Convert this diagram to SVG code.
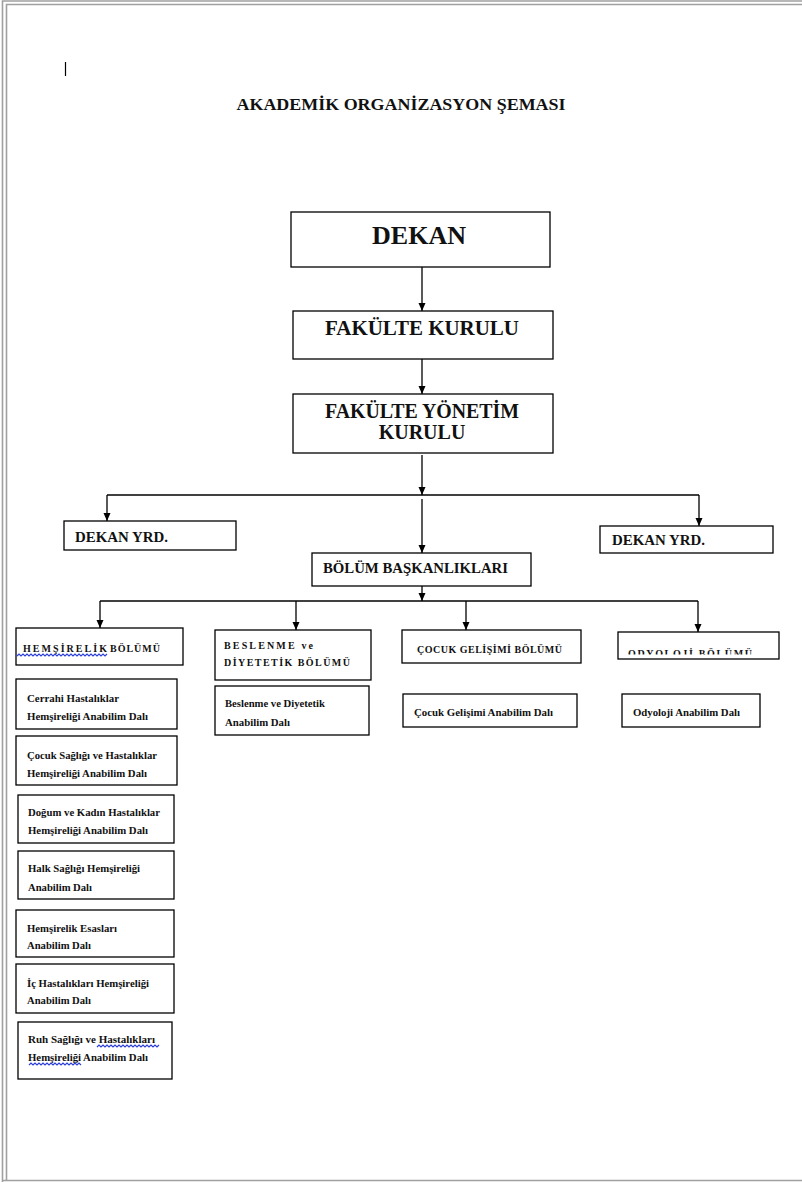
<svg xmlns="http://www.w3.org/2000/svg" width="802" height="1182" viewBox="0 0 802 1182">
<style>
.box{fill:#fff;stroke:#000;stroke-width:1.3}
text{font-family:"Liberation Serif","Times New Roman",serif;font-weight:bold;fill:#111}
.s{font-size:10px}
.c{font-size:10px}
.conn{stroke:#000;stroke-width:1.3;fill:none}
.wavy{stroke:#2b3fd6;stroke-width:1.2;fill:none}
.pg{stroke:#a0a0a0;stroke-width:1.6;fill:none}
</style>
<defs>
<marker id="ah" viewBox="0 0 8 8" refX="8" refY="4" markerWidth="8" markerHeight="8" markerUnits="userSpaceOnUse" orient="auto">
<path d="M0,0.5 L8,4 L0,7.5 Z" fill="#000"/>
</marker>
<clipPath id="odclip"><rect x="619" y="633" width="159" height="21.5"/></clipPath>
</defs>
<rect x="0" y="0" width="802" height="1182" fill="#fff"/>
<g id="page">
<path class="pg" d="M2.5,1182 V1 H802"/>
<path class="pg" d="M6.5,1180 V4.5 H802"/>
<path class="pg" d="M2.5,1180.5 H802"/>
<line x1="65.5" y1="62" x2="65.5" y2="76" stroke="#000" stroke-width="1.2"/>
</g>
<g id="title">
<text x="401" y="110" font-size="16" text-anchor="middle" textLength="329" lengthAdjust="spacingAndGlyphs">AKADEMİK ORGANİZASYON ŞEMASI</text>
</g>
<g id="connectors">
<line class="conn" x1="422" y1="267" x2="422" y2="311" marker-end="url(#ah)"/>
<line class="conn" x1="422" y1="359" x2="422" y2="394" marker-end="url(#ah)"/>
<line class="conn" x1="422" y1="455" x2="422" y2="495" marker-end="url(#ah)"/>
<line class="conn" x1="107" y1="495" x2="699" y2="495"/>
<line class="conn" x1="107" y1="495" x2="107" y2="521" marker-end="url(#ah)"/>
<line class="conn" x1="699" y1="495" x2="699" y2="526" marker-end="url(#ah)"/>
<line class="conn" x1="422" y1="499" x2="422" y2="553" marker-end="url(#ah)"/>
<line class="conn" x1="422" y1="586" x2="422" y2="601" marker-end="url(#ah)"/>
<line class="conn" x1="100" y1="601" x2="698" y2="601"/>
<line class="conn" x1="100" y1="601" x2="100" y2="628" marker-end="url(#ah)"/>
<line class="conn" x1="296" y1="601" x2="296" y2="630" marker-end="url(#ah)"/>
<line class="conn" x1="466" y1="601" x2="466" y2="630" marker-end="url(#ah)"/>
<line class="conn" x1="698" y1="601" x2="698" y2="632" marker-end="url(#ah)"/>
</g>
<g id="dekan">
<rect class="box" x="291" y="212" width="259" height="55"/>
<text x="419" y="244" font-size="25" text-anchor="middle" textLength="94" lengthAdjust="spacingAndGlyphs">DEKAN</text>
</g>
<g id="fakulte-kurulu">
<rect class="box" x="293" y="311" width="260" height="48"/>
<text x="422" y="335" font-size="20" text-anchor="middle" textLength="194" lengthAdjust="spacingAndGlyphs">FAKÜLTE KURULU</text>
</g>
<g id="fakulte-yonetim-kurulu">
<rect class="box" x="293" y="394" width="260" height="59"/>
<text x="422" y="418" font-size="20" text-anchor="middle" textLength="194" lengthAdjust="spacingAndGlyphs">FAKÜLTE YÖNETİM</text>
<text x="422" y="439" font-size="20" text-anchor="middle">KURULU</text>
</g>
<g id="dekan-yrd-1">
<rect class="box" x="64" y="521" width="172" height="29"/>
<text x="75" y="542" font-size="14.5" textLength="93" lengthAdjust="spacingAndGlyphs">DEKAN YRD.</text>
</g>
<g id="dekan-yrd-2">
<rect class="box" x="600" y="526" width="173" height="27"/>
<text x="612" y="545" font-size="14.5" textLength="93" lengthAdjust="spacingAndGlyphs">DEKAN YRD.</text>
</g>
<g id="bolum-baskanliklari">
<rect class="box" x="312" y="553" width="219" height="33"/>
<text x="323" y="573" font-size="14.5" textLength="185" lengthAdjust="spacingAndGlyphs">BÖLÜM BAŞKANLIKLARI</text>
</g>
<g id="hemsirelik-bolumu">
<rect class="box" x="16" y="628" width="167" height="37"/>
<text class="c" x="23" y="652" textLength="84" lengthAdjust="spacing">HEMŞİRELİK</text>
<text class="c" x="110" y="652" textLength="50" lengthAdjust="spacing">BÖLÜMÜ</text>
<path class="wavy" d="M17,656 l2,-2 l2,2 l2,-2 l2,2 l2,-2 l2,2 l2,-2 l2,2 l2,-2 l2,2 l2,-2 l2,2 l2,-2 l2,2 l2,-2 l2,2 l2,-2 l2,2 l2,-2 l2,2 l2,-2 l2,2 l2,-2 l2,2 l2,-2 l2,2 l2,-2 l2,2 l2,-2 l2,2 l2,-2 l2,2 l2,-2 l2,2 l2,-2 l2,2 l2,-2 l2,2 l2,-2 l2,2 l2,-2 l2,2 l2,-2 l2,2 l2,-2"/>
</g>
<g id="beslenme-bolumu">
<rect class="box" x="215" y="630" width="156" height="50"/>
<text class="c" x="224" y="649" textLength="89" lengthAdjust="spacing">BESLENME ve</text>
<text class="c" x="224" y="666" textLength="126" lengthAdjust="spacing">DİYETETİK BÖLÜMÜ</text>
</g>
<g id="cocuk-gelisimi-bolumu">
<rect class="box" x="402" y="630" width="179" height="33"/>
<text class="c" x="417" y="653" textLength="145" lengthAdjust="spacing">ÇOCUK GELİŞİMİ BÖLÜMÜ</text>
</g>
<g id="odyoloji-bolumu">
<rect class="box" x="618" y="632" width="161" height="27"/>
<text class="c" x="628" y="657" textLength="124" lengthAdjust="spacing" clip-path="url(#odclip)">ODYOLOJİ BÖLÜMÜ</text>
</g>
<g id="cerrahi">
<rect class="box" x="16" y="679" width="161" height="50"/>
<text class="s" x="27" y="702" textLength="92" lengthAdjust="spacingAndGlyphs">Cerrahi Hastalıklar</text>
<text class="s" x="27" y="720" textLength="121" lengthAdjust="spacingAndGlyphs">Hemşireliği Anabilim Dalı</text>
</g>
<g id="cocuk-sagligi">
<rect class="box" x="16" y="736" width="161" height="49"/>
<text class="s" x="27" y="759" textLength="130" lengthAdjust="spacingAndGlyphs">Çocuk Sağlığı ve Hastalıklar</text>
<text class="s" x="27" y="777" textLength="120" lengthAdjust="spacingAndGlyphs">Hemşireliği Anabilim Dalı</text>
</g>
<g id="dogum">
<rect class="box" x="18" y="795" width="156" height="48"/>
<text class="s" x="28" y="816" textLength="132" lengthAdjust="spacingAndGlyphs">Doğum ve Kadın Hastalıklar</text>
<text class="s" x="28" y="834" textLength="120" lengthAdjust="spacingAndGlyphs">Hemşireliği Anabilim Dalı</text>
</g>
<g id="halk-sagligi">
<rect class="box" x="18" y="851" width="156" height="48"/>
<text class="s" x="28" y="872" textLength="112" lengthAdjust="spacingAndGlyphs">Halk Sağlığı Hemşireliği</text>
<text class="s" x="28" y="891" textLength="64" lengthAdjust="spacingAndGlyphs">Anabilim Dalı</text>
</g>
<g id="hemsirelik-esaslari">
<rect class="box" x="16" y="910" width="158" height="47"/>
<text class="s" x="27" y="932" textLength="90" lengthAdjust="spacingAndGlyphs">Hemşirelik Esasları</text>
<text class="s" x="27" y="949" textLength="64" lengthAdjust="spacingAndGlyphs">Anabilim Dalı</text>
</g>
<g id="ic-hastaliklari">
<rect class="box" x="16" y="964" width="158" height="49"/>
<text class="s" x="27" y="987" textLength="122" lengthAdjust="spacingAndGlyphs">İç Hastalıkları Hemşireliği</text>
<text class="s" x="27" y="1004" textLength="64" lengthAdjust="spacingAndGlyphs">Anabilim Dalı</text>
</g>
<g id="ruh-sagligi">
<rect class="box" x="18" y="1022" width="154" height="57"/>
<text class="s" x="28" y="1043" textLength="127" lengthAdjust="spacingAndGlyphs">Ruh Sağlığı ve Hastalıkları</text>
<text class="s" x="28" y="1061" textLength="120" lengthAdjust="spacingAndGlyphs">Hemşireliği Anabilim Dalı</text>
<path class="wavy" d="M97,1047 l2,-2 l2,2 l2,-2 l2,2 l2,-2 l2,2 l2,-2 l2,2 l2,-2 l2,2 l2,-2 l2,2 l2,-2 l2,2 l2,-2 l2,2 l2,-2 l2,2 l2,-2 l2,2 l2,-2 l2,2 l2,-2 l2,2 l2,-2 l2,2 l2,-2 l2,2 l2,-2 l2,2 l2,-2"/>
<path class="wavy" d="M29,1065 l2,-2 l2,2 l2,-2 l2,2 l2,-2 l2,2 l2,-2 l2,2 l2,-2 l2,2 l2,-2 l2,2 l2,-2 l2,2 l2,-2 l2,2 l2,-2 l2,2 l2,-2 l2,2 l2,-2 l2,2 l2,-2 l2,2 l2,-2 l2,2"/>
</g>
<g id="beslenme-abd">
<rect class="box" x="215" y="686" width="154" height="49"/>
<text class="s" x="225" y="707" textLength="100" lengthAdjust="spacingAndGlyphs">Beslenme ve Diyetetik</text>
<text class="s" x="225" y="726" textLength="65" lengthAdjust="spacingAndGlyphs">Anabilim Dalı</text>
</g>
<g id="cocuk-gelisimi-abd">
<rect class="box" x="403" y="694" width="174" height="33"/>
<text class="s" x="414" y="716" textLength="139" lengthAdjust="spacingAndGlyphs">Çocuk Gelişimi Anabilim Dalı</text>
</g>
<g id="odyoloji-abd">
<rect class="box" x="622" y="694" width="138" height="33"/>
<text class="s" x="633" y="716" textLength="107" lengthAdjust="spacingAndGlyphs">Odyoloji Anabilim Dalı</text>
</g>
</svg>
